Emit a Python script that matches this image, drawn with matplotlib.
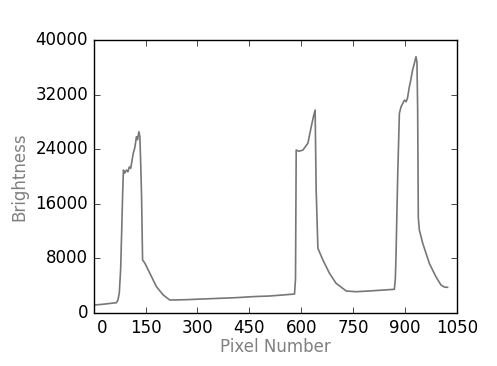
import matplotlib
matplotlib.use("Agg")
import matplotlib.pyplot as plt
import matplotlib.transforms as mtransforms

pixel = [0, 21, 66, 70, 74, 78, 81, 84, 86, 89.5, 95, 99, 103, 107, 109.5, 114.3, 118.8, 123.7, 126.7, 130.6, 133.5,
         136.4, 138.4, 141.3, 148.2, 162.4, 181.4, 201, 220, 265.5, 314.4, 363.3, 412.2, 461, 508.5, 549, 580.4, 583.3,
         585.3, 593, 604.8, 610.7, 619, 628.8, 635, 640, 643, 648, 662.5, 681.6, 700.6, 730, 758.3, 803.3, 869, 871.8,
         873.7, 878.6, 883.5, 888.4, 893.3, 898.2, 903, 907, 912.3, 916.7, 921.6, 926.5, 931.4, 934.3, 936.3, 938.2,
         941.2, 951, 970, 989, 1003.8, 1013.5, 1022.8]
brightness = [1170, 1250, 1510, 1900, 2900, 6500, 12160, 18000, 20950, 20500, 20950, 20700, 21400, 21200, 21930, 23400,
              24200, 25830, 25400, 26560, 25830, 21000, 17040, 7770,
              7280, 5810, 3860, 2640, 1900, 1950, 2050, 2150, 2250, 2400, 2490, 2650, 2780, 5000, 23880, 23700, 23880,
              24300, 24860, 27300, 28760,
              29740, 18020, 9480, 7760, 5810, 4350, 3220, 3120, 3250, 3470, 5000, 8250, 20000, 29250, 30220, 30720, 31200,
              30950, 31500, 33150, 34200, 35600,
              36500, 37550, 36800, 30000, 14000, 12160, 10210, 7280, 5320, 4100, 3800, 3760]

xticks = [0, 150, 300, 450, 600, 750, 900, 1050]
yticks = [0, 8000, 16000, 24000, 32000, 40000]

plt.style.use("classic")
fig = plt.figure(figsize=(4.97, 3.66), dpi=100, facecolor="white")
ax = fig.add_axes([0.1885, 0.1448, 0.731, 0.7459])
ax.plot(pixel, brightness, color="#777777", lw=1.2)
ax.set_xlim(0, 1050)
ax.set_ylim(0, 40000)
ax.set_xticks(xticks)
ax.set_yticks(yticks)
ax.tick_params(labelsize=12)
ax.set_xlabel("Pixel Number", color="gray", fontsize=12, labelpad=1)
ax.set_ylabel("Brightness", color="gray", fontsize=12)
fig.canvas.draw()
lbl0 = ax.get_xticklabels()[0]
lbl0.set_transform(lbl0.get_transform() + mtransforms.ScaledTranslation(8 / 100, 0, fig.dpi_scale_trans))
fig.savefig("out.png", dpi=100, facecolor="white")
